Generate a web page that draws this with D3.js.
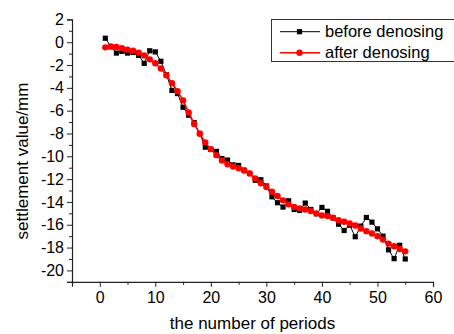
<!DOCTYPE html>
<html>
<head>
<meta charset="utf-8">
<script src="https://cdn.jsdelivr.net/npm/d3@7"></script>
<style>
  body { margin: 0; background: #fff; }
  svg { display: block; font-family: Arial, "Liberation Sans", sans-serif; }
</style>
</head>
<body>
<svg id="chart" width="454" height="334"></svg>
<script>
// periods 1..55
const periods = d3.range(1, 56);

// before denosing (black squares)
const beforeValues = [
  0.35, -0.4, -0.95, -0.8, -0.95, -0.9, -1.15, -1.85, -0.75, -0.85,
  -1.67, -2.85, -4.23, -4.5, -5.7, -6.4, -7.05, -8.0, -9.2, -9.4,
  -9.57, -10.2, -10.33, -10.75, -10.8, -11.22, -11.5, -12.1, -12.05, -12.6,
  -13.55, -14.07, -14.45, -13.9, -14.66, -14.74, -14.1, -14.66, -15.04, -14.48,
  -14.82, -15.39, -15.95, -16.5, -16.04, -17.05, -16.12, -15.36, -15.77, -16.36,
  -17.0, -18.2, -18.97, -17.8, -19.0
];

// after denosing (red circles)
const afterValues = [
  -0.45, -0.38, -0.42, -0.52, -0.65, -0.75, -0.92, -1.17, -1.5, -1.85,
  -2.3, -2.9, -3.6, -4.3, -5.1, -6.15, -7.17, -8.02, -8.78, -9.37,
  -9.9, -10.37, -10.69, -10.9, -11.05, -11.25, -11.51, -11.95, -12.36, -12.69,
  -13.1, -13.48, -13.86, -14.21, -14.45, -14.57, -14.66, -14.8, -15.0, -15.18,
  -15.24, -15.39, -15.6, -15.74, -15.89, -16.07, -16.33, -16.56, -16.77, -17.0,
  -17.3, -17.65, -17.89, -18.12, -18.33
];

const xMajor = [0, 10, 20, 30, 40, 50, 60];
const xMinor = [-5, 5, 15, 25, 35, 45, 55];
const yMajor = [2, 0, -2, -4, -6, -8, -10, -12, -14, -16, -18, -20];
const yMinor = [1, -1, -3, -5, -7, -9, -11, -13, -15, -17, -19, -21];

const legendLabels = ["before denosing", "after denosing"];

const svg = d3.select("#chart");
const margin = { left: 72, top: 19.4, right: 21, bottom: 52.2 };
const width = 454 - margin.left - margin.right;
const height = 334 - margin.top - margin.bottom;

const x = d3.scaleLinear().domain([-5, 60]).range([margin.left, margin.left + width]);
const y = d3.scaleLinear().domain([-21, 2]).range([margin.top + height, margin.top]);

// axes
function styleAxis(g) {
  g.select(".domain").attr("stroke", "#222").attr("stroke-width", 1.2);
  g.selectAll(".tick line").attr("stroke", "#222").attr("stroke-width", 1);
  g.selectAll(".tick text").attr("fill", "#000").style("font-size", "16px");
}

const xAxisG = svg.append("g").attr("transform", `translate(0,${y(-21)})`);
xAxisG.call(d3.axisBottom(x).tickValues(xMajor).tickSize(5).tickPadding(5).tickFormat(d3.format("d")))
  .call(styleAxis);
svg.append("g").attr("transform", `translate(0,${y(-21)})`)
  .call(d3.axisBottom(x).tickValues(xMinor).tickSize(3).tickFormat(""))
  .call(g => g.select(".domain").remove())
  .call(g => g.selectAll(".tick line").attr("stroke", "#222"));

const yAxisG = svg.append("g").attr("transform", `translate(${x(-5)},0)`);
yAxisG.call(d3.axisLeft(y).tickValues(yMajor).tickSize(5).tickPadding(3).tickFormat(d => d3.format("d")(d).replace("−", "-")))
  .call(styleAxis);
svg.append("g").attr("transform", `translate(${x(-5)},0)`)
  .call(d3.axisLeft(y).tickValues(yMinor).tickSize(3).tickFormat(""))
  .call(g => g.select(".domain").remove())
  .call(g => g.selectAll(".tick line").attr("stroke", "#222"));

// axis titles
svg.append("text")
  .attr("x", x(27.5)).attr("y", 329)
  .attr("text-anchor", "middle")
  .style("font-size", "17px")
  .text("the number of periods");

svg.append("text")
  .attr("transform", `translate(28,${161}) rotate(-90)`)
  .attr("text-anchor", "middle")
  .style("font-size", "17px")
  .text("settlement value/mm");

// series
const beforeData = periods.map((p, i) => ({ p, v: beforeValues[i] }));
const afterData = periods.map((p, i) => ({ p, v: afterValues[i] }));

const line = d3.line().x(d => x(d.p)).y(d => y(d.v));

svg.append("path").datum(beforeData)
  .attr("d", line).attr("fill", "none")
  .attr("stroke", "#000").attr("stroke-width", 1);

svg.selectAll("rect.before").data(beforeData).enter()
  .append("rect").attr("class", "before")
  .attr("x", d => x(d.p) - 2.6).attr("y", d => y(d.v) - 2.6)
  .attr("width", 5.2).attr("height", 5.2)
  .attr("fill", "#000");

svg.append("path").datum(afterData)
  .attr("d", line).attr("fill", "none")
  .attr("stroke", "#ff0000").attr("stroke-width", 1.5);

svg.selectAll("circle.after").data(afterData).enter()
  .append("circle").attr("class", "after")
  .attr("cx", d => x(d.p)).attr("cy", d => y(d.v))
  .attr("r", 3.2)
  .attr("fill", "#ff0000");

// legend
const legend = svg.append("g");
legend.append("rect")
  .attr("x", 271.5).attr("y", 19.5)
  .attr("width", 190).attr("height", 42)
  .attr("fill", "#fff").attr("stroke", "#333").attr("stroke-width", 1);

const legendColors = ["#000", "#ff0000"];
legendLabels.forEach((label, i) => {
  const cy = 31.7 + i * 21;
  legend.append("line")
    .attr("x1", 280).attr("x2", 320).attr("y1", cy).attr("y2", cy)
    .attr("stroke", legendColors[i]).attr("stroke-width", i === 0 ? 1 : 1.5);
  if (i === 0) {
    legend.append("rect")
      .attr("x", 299.5 - 2.6).attr("y", cy - 2.6)
      .attr("width", 5.2).attr("height", 5.2).attr("fill", "#000");
  } else {
    legend.append("circle")
      .attr("cx", 299.5).attr("cy", cy).attr("r", 3.2).attr("fill", "#ff0000");
  }
  legend.append("text")
    .attr("x", 325).attr("y", cy + 5.5)
    .style("font-size", "16.5px")
    .text(label);
});
</script>
</body>
</html>
